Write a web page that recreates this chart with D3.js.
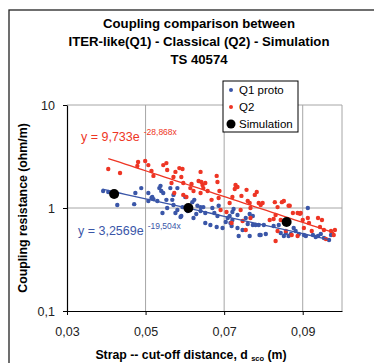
<!DOCTYPE html>
<html lang="en">
<head>
<meta charset="UTF-8">
<title>Coupling comparison</title>
<script src="https://d3js.org/d3.v7.min.js"></script>
<style>
  body { margin: 0; background: #fff; font-family: 'Liberation Sans', Arial, sans-serif; }
  svg text { font-family: 'Liberation Sans', Arial, sans-serif; }
</style>
</head>
<body>
<svg id="chart" width="374" height="363"></svg>
<script>
// Q1 proto (ITER-like) measurements: [distance m, resistance ohm/m]
const q1Proto = [
  [0.0392,1.46],[0.0405,1.43],[0.0428,1.07],[0.0471,1.09],[0.0474,1.40],[0.0489,1.56],
  [0.0507,1.17],[0.0515,1.25],[0.0507,1.40],[0.0517,1.28],[0.0535,1.56],[0.0540,1.46],
  [0.0545,1.40],[0.0543,0.894],[0.0553,1.20],[0.0568,1.20],[0.0576,0.894],[0.0589,0.818],
  [0.0594,1.02],[0.0601,1.28],[0.0624,1.20],[0.0632,1.05],[0.0629,0.875],[0.0538,1.64],
  [0.0563,1.56],[0.0571,1.34],[0.0581,1.56],[0.0520,1.22],[0.0530,1.17],[0.0555,1.00],
  [0.0571,1.07],[0.0581,0.956],[0.0591,0.836],[0.0607,0.935],[0.0622,0.800],[0.0640,0.935],
  [0.0647,1.02],[0.0652,0.894],[0.0619,1.14],[0.0670,1.00],[0.0686,1.05],[0.0675,0.894],
  [0.0683,0.836],[0.0652,0.715],[0.0665,0.684],[0.0681,0.654],[0.0696,0.639],[0.0709,0.800],
  [0.0714,0.836],[0.0721,0.765],[0.0719,0.669],[0.0734,0.855],[0.0734,0.639],[0.0747,0.612],
  [0.0737,0.535],[0.0755,0.800],[0.0765,0.875],[0.0773,0.836],[0.0760,0.699],[0.0773,0.684],
  [0.0780,0.684],[0.0788,0.684],[0.0765,0.535],[0.0801,0.684],[0.0806,0.559],[0.0793,0.547],
  [0.0826,0.669],[0.0839,0.684],[0.0844,0.572],[0.0857,0.572],[0.0864,0.535],[0.0877,0.639],
  [0.0882,0.598],[0.0890,0.559],[0.0903,0.547],[0.0908,0.535],[0.0926,0.547],[0.0913,1.00],
  [0.0852,0.535],[0.0939,0.535],[0.0946,0.559],[0.0954,0.512],[0.0967,0.489],[0.0972,0.547],
  [0.0716,0.715],[0.0790,0.547],[0.0870,0.559],[0.0933,0.523],[0.0704,0.731],[0.0721,0.915],
  [0.0724,0.978],[0.0640,1.02]
];

// Q2 (classical) measurements
const q2 = [
  [0.0405,2.39],[0.0435,2.19],[0.0481,2.80],[0.0499,2.86],[0.0479,2.56],[0.0507,2.61],
  [0.0515,2.29],[0.0520,2.05],[0.0545,2.61],[0.0553,2.73],[0.0555,2.34],[0.0571,2.00],
  [0.0576,2.24],[0.0586,2.44],[0.0594,2.39],[0.0591,2.00],[0.0566,1.75],[0.0596,1.75],
  [0.0617,1.71],[0.0614,1.56],[0.0622,1.46],[0.0635,1.83],[0.0640,2.24],[0.0645,1.67],
  [0.0647,1.56],[0.0596,1.34],[0.0604,1.28],[0.0573,1.40],[0.0640,1.40],[0.0652,1.75],
  [0.0681,2.05],[0.0683,1.79],[0.0688,1.46],[0.0686,1.25],[0.0668,1.20],[0.0658,1.46],
  [0.0729,1.67],[0.0734,1.60],[0.0727,1.53],[0.0757,1.50],[0.0721,1.28],[0.0744,1.31],
  [0.0778,1.34],[0.0783,1.43],[0.0760,1.17],[0.0765,1.12],[0.0714,1.12],[0.0788,1.12],
  [0.0793,1.07],[0.0767,1.00],[0.0742,0.956],[0.0706,0.915],[0.0719,0.715],[0.0755,0.612],
  [0.0747,0.748],[0.0767,0.800],[0.0691,0.956],[0.0798,1.12],[0.0829,1.14],[0.0836,1.02],
  [0.0847,1.14],[0.0852,1.17],[0.0867,1.05],[0.0875,0.894],[0.0887,0.894],[0.0893,0.88],
  [0.0900,0.765],[0.0913,0.800],[0.0916,0.715],[0.0923,0.598],[0.0939,0.800],[0.0816,0.765],
  [0.0826,0.782],[0.0831,0.855],[0.0844,0.765],[0.0903,0.639],[0.0836,0.598],[0.0857,0.598],
  [0.0872,0.547],[0.0887,0.535],[0.0831,0.478],[0.0949,0.765],[0.0944,0.654],[0.0954,0.612],
  [0.0972,0.598],[0.0982,0.612],[0.0979,0.547],[0.0959,0.500],[0.0642,1.79],[0.0864,1.05],
  [0.0895,0.894]
];

const simulation = [[0.042,1.37],[0.0609,1.0],[0.0859,0.73]];

// exponential trend lines y = a*exp(b*x) as printed on the chart
const q2Fit = { a: 9.733, b: -28.868, from: 0.0405, to: 0.098 };
const q1Fit = { a: 3.2569, b: -19.504, from: 0.039, to: 0.097 };

const xTicks = [0.03, 0.05, 0.07, 0.09];
const yTicks = [0.1, 1, 10];
const titleLines = ["Coupling comparison between", "ITER-like(Q1) - Classical (Q2) - Simulation", "TS 40574"];

const BLUE = "#3a56a8", RED = "#ee3524";
const fmt = d => String(d).replace(".", ",");

const svg = d3.select("#chart");
const m = { left: 67, top: 105, right: 342, bottom: 311 };

const x = d3.scaleLinear().domain([0.03, 0.1]).range([m.left, m.right]);
const y = d3.scaleLog().domain([0.1, 10]).range([m.bottom, m.top]);

// outer frame
svg.append("rect")
  .attr("x", 9).attr("y", 10).attr("width", 420).attr("height", 400)
  .attr("fill", "none").attr("stroke", "#222").attr("stroke-width", 1.3);

// title
svg.append("g").selectAll("text").data(titleLines).enter().append("text")
  .attr("x", 199).attr("y", (d, i) => 27.5 + i * 18)
  .attr("text-anchor", "middle").attr("font-size", 13.2).attr("font-weight", "bold")
  .text(d => d);

// grid
const grid = svg.append("g").attr("stroke", "#a6a6a6").attr("stroke-width", 1);
grid.selectAll(".gx").data(xTicks.slice(1).concat([0.1])).enter().append("line")
  .attr("x1", d => x(d)).attr("x2", d => x(d)).attr("y1", m.top).attr("y2", m.bottom);
grid.selectAll(".gy").data([1, 10]).enter().append("line")
  .attr("x1", m.left).attr("x2", m.right).attr("y1", d => y(d)).attr("y2", d => y(d));

// axes
const xAxis = svg.append("g").attr("transform", `translate(0,${m.bottom})`)
  .call(d3.axisBottom(x).tickValues(xTicks).tickFormat(fmt).tickSize(4).tickSizeOuter(0));
const yAxis = svg.append("g").attr("transform", `translate(${m.left},0)`)
  .call(d3.axisLeft(y).tickValues(yTicks).tickFormat(fmt).tickSize(4).tickSizeOuter(0));
[xAxis, yAxis].forEach(a => {
  a.select(".domain").attr("stroke", "#000").attr("stroke-width", 1.2);
  a.selectAll(".tick line").attr("stroke", "#000");
  a.selectAll(".tick text").attr("font-size", 12.5).attr("fill", "#222")
    .style("font-family", "'Liberation Sans', Arial, sans-serif");
});
xAxis.selectAll(".tick text").attr("dy", "1.45em");
yAxis.selectAll(".tick text").attr("dx", "-0.4em");

// trend lines
const fitLine = f => d3.range(0, 41).map(i => {
  const xv = f.from + (f.to - f.from) * i / 40;
  return [xv, f.a * Math.exp(f.b * xv)];
});
const line = d3.line().x(d => x(d[0])).y(d => y(d[1]));

// points
const dots = (data, color, r) => svg.append("g").selectAll("circle").data(data).enter()
  .append("circle").attr("cx", d => x(d[0])).attr("cy", d => y(d[1]))
  .attr("r", r).attr("fill", color);

dots(q1Proto, BLUE, 2.2);
dots(q2, RED, 2.2);
svg.append("path").datum(fitLine(q2Fit)).attr("d", line)
  .attr("fill", "none").attr("stroke", RED).attr("stroke-width", 1.3);
svg.append("path").datum(fitLine(q1Fit)).attr("d", line)
  .attr("fill", "none").attr("stroke", BLUE).attr("stroke-width", 1.3);
dots(simulation, "#000", 5);

// equations
const eq = (tx, ty, base, exp, color) => {
  const t = svg.append("text").attr("x", tx).attr("y", ty).attr("font-size", 12.5).attr("fill", color).text(base);
  const w = t.node().getComputedTextLength();
  svg.append("text").attr("x", tx + w + 4).attr("y", ty - 6).attr("font-size", 8.5).attr("fill", color).text(exp);
};
eq(81, 141, "y = 9,733e", "-28,868x", RED);
eq(78, 235, "y = 3,2569e", "-19,504x", BLUE);

// legend
const lg = svg.append("g").attr("transform", "translate(223,81)");
lg.append("rect").attr("width", 75).attr("height", 51)
  .attr("fill", "#fff").attr("stroke", "#000").attr("stroke-width", 1);
const legendItems = [["Q1 proto", BLUE, 2], ["Q2", RED, 2], ["Simulation", "#000", 4.5]];
legendItems.forEach((d, i) => {
  lg.append("circle").attr("cx", 8).attr("cy", 9 + i * 17).attr("r", d[2]).attr("fill", d[1]);
  lg.append("text").attr("x", 16).attr("y", 13 + i * 17).attr("font-size", 11.5).text(d[0]);
});

// axis titles
const xl = svg.append("text").attr("x", 191).attr("y", 359).attr("text-anchor", "middle")
  .attr("font-size", 12.3).attr("font-weight", "bold");
xl.append("tspan").text("Strap -- cut-off distance, d ");
xl.append("tspan").attr("font-size", 7.5).attr("dy", 2).text("sco");
xl.append("tspan").attr("dy", -2).text(" (m)");

svg.append("text").attr("transform", "translate(27,208) rotate(-90)")
  .attr("text-anchor", "middle").attr("font-size", 12.3).attr("font-weight", "bold")
  .text("Coupling resistance (ohm/m)");
</script>
</body>
</html>
